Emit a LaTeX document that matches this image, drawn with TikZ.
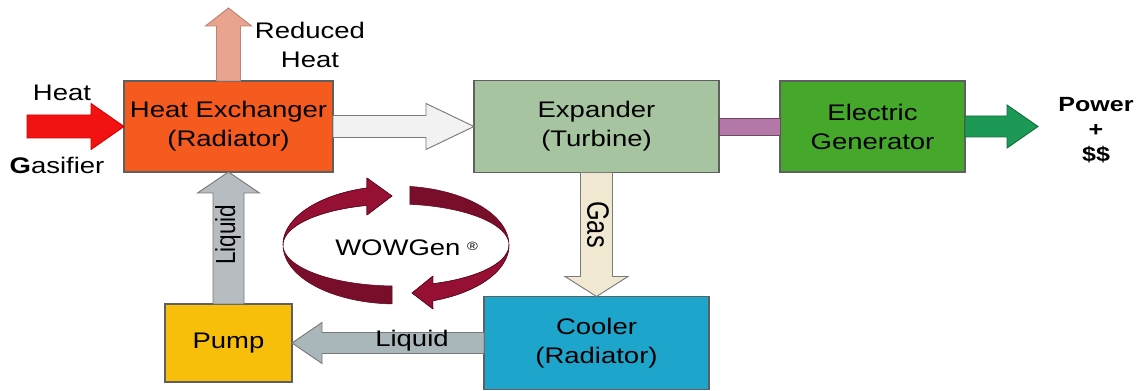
\documentclass[tikz,border=0pt]{standalone}
\usepackage{fontspec}
\usepackage{graphicx}
\setmainfont{Liberation Sans}[FakeStretch=1.22]
\newfontfamily\plainsans{Liberation Sans}
\usetikzlibrary{calc}
\newcommand\dgfont{\fontsize{16.9}{21.75}\selectfont}
\newcommand\gasfont{\fontsize{19}{22}\selectfont}
\newcommand\pwfont{\fontsize{15.4}{18.75}\selectfont\bfseries}
\newcommand\rotlbl[2]{\scalebox{1}[1.22]{\plainsans#1 #2}}
\definecolor{hecol}{HTML}{F55A1E}
\definecolor{expcol}{HTML}{A6C4A0}
\definecolor{gencol}{HTML}{45A82B}
\definecolor{purp}{HTML}{B478A8}
\definecolor{grnarr}{HTML}{1C9A55}
\definecolor{pumpcol}{HTML}{F7BF0A}
\definecolor{coolcol}{HTML}{1EA5CC}
\definecolor{gascol}{HTML}{F0E8D0}
\definecolor{liqv}{HTML}{B6BCC0}
\definecolor{liqh}{HTML}{A9B7BA}
\definecolor{redarr}{HTML}{F21212}
\definecolor{salmon}{HTML}{E8A48F}
\definecolor{whtarr}{HTML}{F2F2F2}
\definecolor{crim}{HTML}{961034}
\definecolor{dcrim}{HTML}{780E2A}
\definecolor{ribline}{HTML}{5E0A1F}
\definecolor{boxline}{HTML}{5F5F5F}
\definecolor{arrline}{HTML}{7A7A7A}
\begin{document}
\begin{tikzpicture}[x=0.75pt,y=-0.75pt,
  box/.style={draw=boxline, line width=0.9pt, inner sep=0pt, outer sep=0pt, align=center, font=\dgfont},
  blk/.style={draw=arrline, line width=0.7pt, line join=miter},
  lbl/.style={font=\dgfont, inner sep=0pt, align=center},
  rib/.style={draw=ribline, line width=0.4pt, line join=round}]
\useasboundingbox[fill=white] (0,0) rectangle (1140,391);

% boxes
\node[box, fill=hecol, minimum width=209*0.75pt, minimum height=91*0.75pt] (he) at (228.5,126.5) {Heat Exchanger\\(Radiator)};
\node[box, fill=expcol, minimum width=245*0.75pt, minimum height=92*0.75pt] (exp) at (596.5,126.5) {Expander\\(Turbine)};
\node[box, fill=gencol, minimum width=185*0.75pt, minimum height=91*0.75pt] (gen) at (872.5,126.5) {Electric\\Generator};
\node[box, fill=pumpcol, minimum width=127*0.75pt, minimum height=78*0.75pt] (pump) at (228.5,343) {Pump};
\node[box, fill=coolcol, minimum width=225*0.75pt, minimum height=93*0.75pt] (cool) at (596.5,343) {Cooler\\(Radiator)};

\coordinate (hs) at (27,126.5);
\coordinate (rh) at (228.5,8);
\coordinate (pw) at (1038,126.5);

% red heat arrow
\draw[blk, draw=red!85!black, fill=redarr] ($(hs)+(0,-11.5)$) -- ($(he.west)+(-33,-11.5)$) -- ($(he.west)+(-33,-23)$) -- (he.west) -- ($(he.west)+(-33,23)$) -- ($(he.west)+(-33,11.5)$) -- ($(hs)+(0,11.5)$) -- cycle;
% reduced heat arrow
\draw[blk, draw=salmon!80!black, fill=salmon] ($(he.north)+(-12,0)$) -- ($(rh)+(-12,18)$) -- ($(rh)+(-23,18)$) -- (rh) -- ($(rh)+(23,18)$) -- ($(rh)+(12,18)$) -- ($(he.north)+(12,0)$) -- cycle;
% white arrow
\draw[blk, fill=whtarr] ($(he.east)+(0,-11)$) -- ($(exp.west)+(-48,-11)$) -- ($(exp.west)+(-48,-23)$) -- (exp.west) -- ($(exp.west)+(-48,23)$) -- ($(exp.west)+(-48,11)$) -- ($(he.east)+(0,11)$) -- cycle;
% purple bar
\draw[blk, draw=purp!60!black, fill=purp] ($(exp.east)+(0,-8.5)$) rectangle ($(gen.west)+(0,8.5)$);
% green output arrow
\draw[blk, draw=grnarr!70!black, fill=grnarr] ($(gen.east)+(0,-10.5)$) -- ($(pw)+(-31,-10.5)$) -- ($(pw)+(-31,-21.5)$) -- (pw) -- ($(pw)+(-31,21.5)$) -- ($(pw)+(-31,10.5)$) -- ($(gen.east)+(0,10.5)$) -- cycle;
% gas arrow
\draw[blk, fill=gascol] ($(exp.south)+(-16,0)$) -- ($(cool.north)+(-16,-20)$) -- ($(cool.north)+(-31.5,-20)$) -- (cool.north) -- ($(cool.north)+(31.5,-20)$) -- ($(cool.north)+(16,-20)$) -- ($(exp.south)+(16,0)$) -- cycle;
% liquid horizontal arrow
\draw[blk, fill=liqh] ($(cool.west)+(0,-10.5)$) -- ($(pump.east)+(30,-10.5)$) -- ($(pump.east)+(30,-20.5)$) -- (pump.east) -- ($(pump.east)+(30,20.5)$) -- ($(pump.east)+(30,10.5)$) -- ($(cool.west)+(0,10.5)$) -- cycle;
% liquid vertical arrow
\draw[blk, fill=liqv] ($(pump.north)+(-15.5,0)$) -- ($(he.south)+(-15.5,21)$) -- ($(he.south)+(-31,21)$) -- (he.south) -- ($(he.south)+(31,21)$) -- ($(he.south)+(15.5,21)$) -- ($(pump.north)+(15.5,0)$) -- cycle;

% WOWGen ribbons
\fill[rib, fill=crim] plot[domain=180:255, samples=30] ({396+113*cos(\x)},{245+59*sin(\x)}) -- (367,178) -- (392,196) -- (367,215) -- plot[domain=255:180, samples=30] ({396+113*cos(\x)},{245+41*sin(\x)}) -- cycle;
\fill[rib, fill=dcrim] plot[domain=92:180, samples=30] ({396+113*cos(\x)},{245+59*sin(\x)}) -- plot[domain=180:92, samples=30] ({396+113*cos(\x)},{245+41*sin(\x)}) -- cycle;
\fill[rib, fill=dcrim] plot[domain=277:360, samples=30] ({396+113*cos(\x)},{245+59*sin(\x)}) -- plot[domain=360:277, samples=30] ({396+113*cos(\x)},{245+41*sin(\x)}) -- cycle;
\fill[rib, fill=crim] plot[domain=0:71, samples=30] ({396+113*cos(\x)},{245+59*sin(\x)}) -- (433,309) -- (412,293) -- (433,276) -- plot[domain=71:0, samples=30] ({396+113*cos(\x)},{245+41*sin(\x)}) -- cycle;
\draw[rib] plot[domain=180:255, samples=30] ({396+113*cos(\x)},{245+59*sin(\x)}) -- (367,178) -- (392,196) -- (367,215) -- plot[domain=255:180, samples=30] ({396+113*cos(\x)},{245+41*sin(\x)});
\draw[rib] plot[domain=0:71, samples=30] ({396+113*cos(\x)},{245+59*sin(\x)}) -- (433,309) -- (412,293) -- (433,276) -- plot[domain=71:0, samples=30] ({396+113*cos(\x)},{245+41*sin(\x)});

% labels
\node[lbl] (lheat) at (62,93) {Heat};
\node[lbl] (lgas) at (57,165) {\textbf{G}asifier};
\node[lbl] (lred) at (310,45) {Reduced\\Heat};
\node[lbl, font=\pwfont, align=center] (lpow) at (1096,130) {Power\\+\\\$\$};
\node[lbl, anchor=west] (lwow) at (335,248) {WOWGen\hspace{5pt}{\fontsize{9}{9}\selectfont\raisebox{0.8ex}{®}}};
\node[lbl] (lliqh) at (412,341) {Liquid};
\node[inner sep=0pt, rotate=90] (lliqv) at (228,238) {\rotlbl{\dgfont}{Liquid}};
\node[inner sep=0pt, rotate=-90] (lgasv) at (598,221) {\rotlbl{\gasfont}{Gas}};
\end{tikzpicture}
\end{document}
